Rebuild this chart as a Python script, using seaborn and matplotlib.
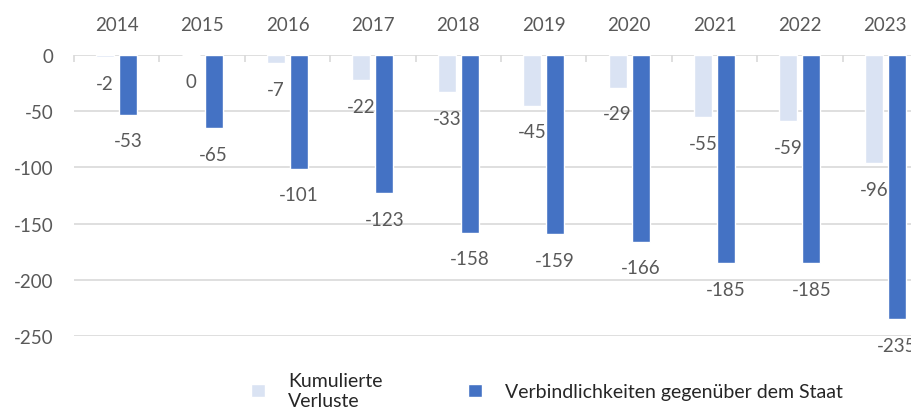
import matplotlib
matplotlib.use("Agg")
import matplotlib.pyplot as plt
import seaborn as sns
import pandas as pd

years = ["2014", "2015", "2016", "2017", "2018", "2019", "2020", "2021", "2022", "2023"]
verluste = [-2, 0, -7, -22, -33, -45, -29, -55, -59, -96]
verbindlichkeiten = [-53, -65, -101, -123, -158, -159, -166, -185, -185, -235]
series_names = ["Kumulierte\nVerluste", "Verbindlichkeiten gegenüber dem Staat"]
colors = ["#DAE3F3", "#4472C4"]
y_ticks = [0, -50, -100, -150, -200, -250]

df = pd.DataFrame({
    "Jahr": years * 2,
    "Wert": verluste + verbindlichkeiten,
    "Reihe": [series_names[0]] * len(years) + [series_names[1]] * len(years),
})

sns.set_theme(style="white")
plt.rcParams["font.family"] = ["Lato", "DejaVu Sans"]
text_gray = "#595959"
grid_gray = "#D9D9D9"

fig = plt.figure(figsize=(9.12, 4.14), dpi=100)
ax = fig.add_axes([74 / 912, 1 - 337 / 414, (928 - 74) / 912, (337 - 56) / 414])

sns.barplot(data=df, x="Jahr", y="Wert", hue="Reihe", palette=colors,
            width=0.54, gap=0.22, ax=ax, legend=True, saturation=1)

ax.set_xlim(-0.5, len(years) - 0.5)
ax.set_ylim(-250, 0)
ax.set_yticks(y_ticks)
ax.set_yticklabels([str(v) for v in y_ticks], fontsize=13.5, color=text_gray)
ax.yaxis.grid(True, color=grid_gray, linewidth=1.2)
ax.set_axisbelow(True)
ax.tick_params(axis="y", length=0, pad=15)

ax.xaxis.tick_top()
ax.tick_params(axis="x", which="major", length=0, pad=16, labelsize=13.5, labelcolor=text_gray)
ax.set_xticks(range(len(years)), minor=False)
ax.set_xticks([i + 0.5 for i in range(-1, len(years))], minor=True)
ax.tick_params(axis="x", which="minor", direction="in", length=5, color=grid_gray, width=1.2, top=True)
ax.set_xlabel("")
ax.set_ylabel("")
for s in ax.spines.values():
    s.set_visible(False)

# value labels below each bar end
for container, values in zip(ax.containers, [verluste, verbindlichkeiten]):
    for patch, v in zip(container.patches, values):
        cx = patch.get_x() + patch.get_width() / 2
        ax.annotate(str(v), xy=(cx, v), xytext=(0, -19), textcoords="offset points",
                    ha="center", va="center", fontsize=13.5, color=text_gray,
                    annotation_clip=False)

handles, labels = ax.get_legend_handles_labels()
ax.get_legend().remove()
fig.legend(handles, labels, loc="center", bbox_to_anchor=(0.600, 0.055), ncol=2,
           frameon=False, fontsize=14, handlelength=0.7, handleheight=0.7,
           handletextpad=1.2, columnspacing=4.4, labelcolor="#262626")

fig.savefig("out.png", dpi=100)
